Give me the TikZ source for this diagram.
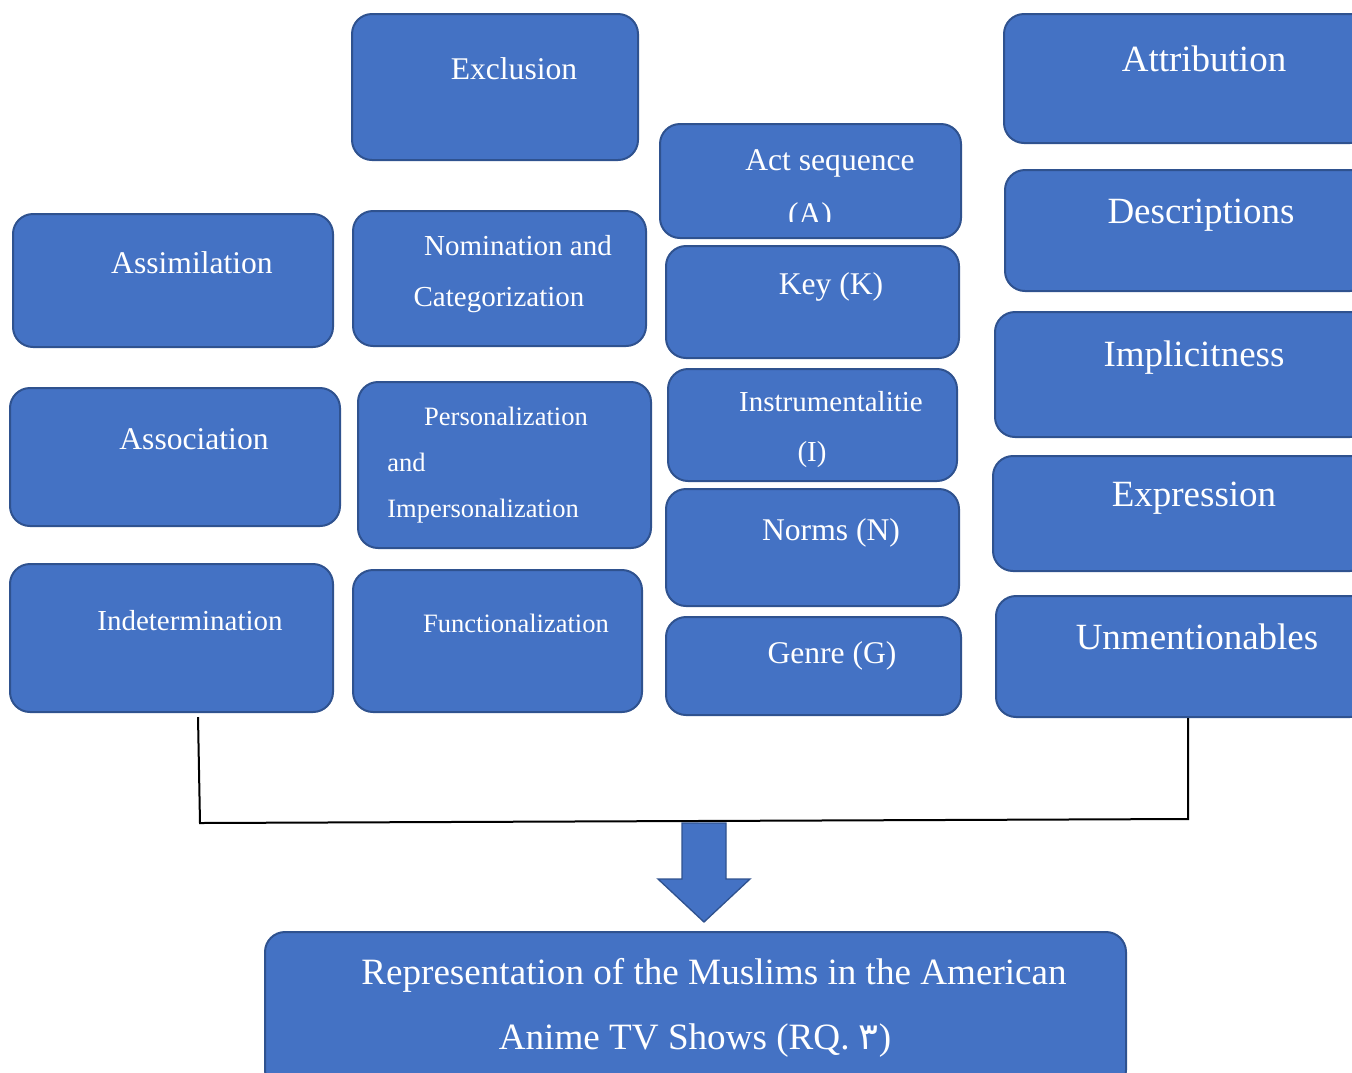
\documentclass[tikz,border=0pt]{standalone}
\usepackage{fontspec}
\setmainfont{Liberation Serif}
\newfontfamily\arabicfont[Script=Arabic]{DejaVu Sans}
\definecolor{boxfill}{HTML}{4472C4}
\definecolor{boxline}{HTML}{2F528F}
\tikzset{
  box/.style={draw=boxline, fill=boxfill, line width=1.5pt, rounded corners=15pt, inner sep=0pt, outer sep=0pt},
  txt/.style={text=white, inner sep=0pt, anchor=base},
  txtl/.style={txt, anchor=base west},
  fA/.style={font=\fontsize{27.75}{32}\selectfont},
  fB/.style={font=\fontsize{23.7}{28}\selectfont},
  fC/.style={font=\fontsize{21.75}{26}\selectfont},
  fD/.style={font=\fontsize{19.9}{24}\selectfont},
  fE/.style={font=\fontsize{27.85}{33}\selectfont},
  conn/.style={draw=black, line width=1.5pt},
}
\begin{document}
\begin{tikzpicture}[x=0.75pt, y=-0.75pt]
\path[use as bounding box] (0,0) rectangle (1352,1072);
\clip (0,0) rectangle (1352,1072);
% boxes
\node[box, minimum width=214.5pt, minimum height=109.5pt] (excl) at (495,87) {};
\node[box, minimum width=274.5pt, minimum height=96.75pt] (attr) at (1187,78.5) {};
\node[box, minimum width=225.75pt, minimum height=85.5pt] (act) at (810.5,181) {};
\node[box, minimum width=273.75pt, minimum height=90.75pt] (desc) at (1187.5,230.5) {};
\node[box, minimum width=240pt, minimum height=99.75pt] (assim) at (173,280.5) {};
\node[box, minimum width=219.75pt, minimum height=101.25pt] (nom) at (499.5,278.5) {};
\node[box, minimum width=219.75pt, minimum height=84pt] (key) at (812.5,302) {};
\node[box, minimum width=281.25pt, minimum height=93.75pt] (impl) at (1182.5,374.5) {};
\node[box, minimum width=247.5pt, minimum height=103.5pt] (assoc) at (175,457) {};
\node[box, minimum width=219.75pt, minimum height=124.5pt] (pers) at (504.5,465) {};
\node[box, minimum width=216.75pt, minimum height=84pt] (instr) at (812.5,425) {};
\node[box, minimum width=282.75pt, minimum height=86.25pt] (expr) at (1181.5,513.5) {};
\node[box, minimum width=219.75pt, minimum height=87.75pt] (norms) at (812.5,547.5) {};
\node[box, minimum width=242.25pt, minimum height=111pt] (indet) at (171.5,638) {};
\node[box, minimum width=216.75pt, minimum height=106.5pt] (func) at (497.5,641) {};
\node[box, minimum width=221.25pt, minimum height=73.5pt] (genre) at (813.5,666) {};
\node[box, minimum width=280.5pt, minimum height=90.75pt] (unm) at (1183,656.5) {};
\node[box, minimum width=645.75pt, minimum height=118.5pt] (rep) at (695.5,1011) {};
% texts
\node[txt, fB] (tExcl) at (514,79.5) {Exclusion};
\node[txt, fA] (tAttr) at (1204,71) {Attribution};
\node[txt, fB] (tAct) at (830,170) {Act sequence};
\begin{scope}
\clip (600,190) rectangle (1000,221);
\node[txt, fB] (tActA) at (810,224) {(A)};
\end{scope}
\node[txt, fA] (tDesc) at (1201,223) {Descriptions};
\node[txt, fB] (tAssim) at (192,273.5) {Assimilation};
\node[txt, fC] (tNom1) at (518,255.5) {Nomination and};
\node[txt, fC] (tNom2) at (499,306.5) {Categorization};
\node[txt, fB] (tKey) at (831,294.5) {Key (K)};
\node[txt, fA] (tImpl) at (1194,366) {Implicitness};
\node[txt, fB] (tAssoc) at (194,449.5) {Association};
\node[txt, fD] (tPers1) at (506,425) {Personalization};
\node[txtl, fD] (tPers2) at (387,471) {and};
\node[txtl, fD] (tPers3) at (387,517) {Impersonalization};
\node[txt, fC] (tInstr1) at (831,411.5) {Instrumentalitie};
\node[txt, fC] (tInstr2) at (812,461.5) {(I)};
\node[txt, fA] (tExpr) at (1194,506) {Expression};
\node[txt, fB] (tNorms) at (831,540.5) {Norms (N)};
\node[txt, fC] (tIndet) at (190,630.5) {Indetermination};
\node[txt, fD] (tFunc) at (516,632) {Functionalization};
\node[txt, fB] (tGenre) at (832,663.5) {Genre (G)};
\node[txt, fA] (tUnm) at (1197,649) {Unmentionables};
\node[txt, fE] (tRep1) at (714,984) {Representation of the Muslims in the American};
\node[txt, fE] (tRep2) at (695,1049) {Anime TV Shows (RQ. {\arabicfont ٣})};
% connector
\coordinate (l1) at (198,717);
\coordinate (l2) at (200,823);
\coordinate (l3) at (1188,819);
\coordinate (l4) at (1188,718);
\draw[conn] (l1) -- (l2) -- (l3) -- (l4);
% block arrow
\filldraw[fill=boxfill, draw=boxline, line width=1pt]
  (682,823) -- (726,823) -- (726,879) -- (750,879) -- (704,922) -- (658,879) -- (682,879) -- cycle;
\end{tikzpicture}
\end{document}
